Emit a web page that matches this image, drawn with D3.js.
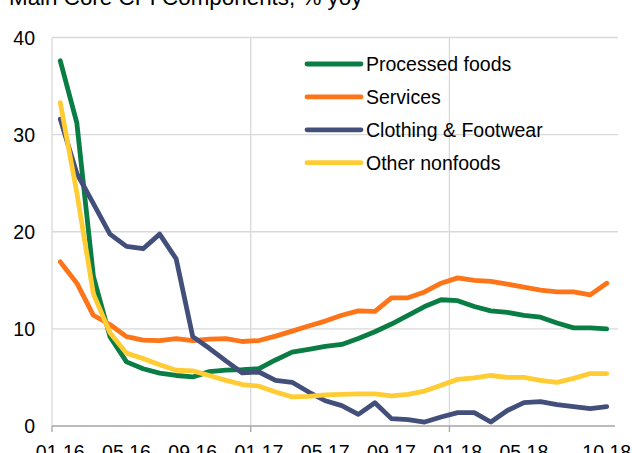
<!DOCTYPE html>
<html>
<head>
<meta charset="utf-8">
<script src="https://cdn.jsdelivr.net/npm/d3@7"></script>
<style>
  html, body { margin: 0; padding: 0; background: #ffffff; }
  svg { display: block; }
  text { font-family: "Liberation Sans", Arial, sans-serif; fill: #000; }
</style>
</head>
<body>
<svg id="chart" width="633" height="453"></svg>
<script>
const title = "Main Core CPI Components, % yoy";

const categories = ["01.16","02.16","03.16","04.16","05.16","06.16","07.16","08.16","09.16","10.16","11.16","12.16",
  "01.17","02.17","03.17","04.17","05.17","06.17","07.17","08.17","09.17","10.17","11.17","12.17",
  "01.18","02.18","03.18","04.18","05.18","06.18","07.18","08.18","09.18","10.18"];

const tickLabels = ["01.16","05.16","09.16","01.17","05.17","09.17","01.18","05.18","10.18"];
const gridCategories = ["01.17","01.18"];
const axisTickCategories = ["01.16","01.17","01.18"];
const yTicks = [0, 10, 20, 30, 40];

const processedFoods = [37.6, 31.2, 15.4, 9.2, 6.6, 5.9, 5.45, 5.2, 5.05, 5.6, 5.75, 5.8,
  5.9, 6.8, 7.6, 7.9, 8.2, 8.4, 9.0, 9.7, 10.5, 11.4, 12.3, 13.0,
  12.9, 12.3, 11.85, 11.7, 11.4, 11.2, 10.6, 10.1, 10.1, 10.0];

const services = [16.9, 14.7, 11.4, 10.45, 9.2, 8.85, 8.8, 9.0, 8.8, 8.95, 9.0, 8.7,
  8.8, 9.25, 9.77, 10.3, 10.8, 11.4, 11.85, 11.8, 13.2, 13.2, 13.8, 14.7,
  15.25, 15.0, 14.9, 14.6, 14.3, 14.0, 13.8, 13.8, 13.5, 14.7];

const clothingFootwear = [31.6, 26.0, 22.9, 19.76, 18.5, 18.25, 19.76, 17.2, 9.2, 8.0, 6.7, 5.46,
  5.56, 4.7, 4.5, 3.5, 2.6, 2.1, 1.2, 2.4, 0.76, 0.65, 0.41, 0.93,
  1.37, 1.37, 0.41, 1.6, 2.4, 2.5, 2.2, 2.0, 1.8, 2.0];

const otherNonfoods = [33.3, 24.0, 13.6, 9.6, 7.5, 6.95, 6.3, 5.74, 5.67, 5.2, 4.7, 4.27,
  4.1, 3.5, 3.0, 3.05, 3.2, 3.25, 3.3, 3.3, 3.1, 3.25, 3.6, 4.2,
  4.8, 4.95, 5.2, 5.0, 5.0, 4.7, 4.5, 4.9, 5.4, 5.4];

const seriesNames = ["Processed foods", "Services", "Clothing & Footwear", "Other nonfoods"];
const seriesColors = ["#0a7d44", "#fd7518", "#434f7b", "#ffcc33"];
const seriesValues = [processedFoods, services, clothingFootwear, otherNonfoods];

const svg = d3.select("#chart");
const plotLeft = 52, plotRight = 615, plotTop = 37.5, plotBottom = 426;

const x = d3.scaleBand().domain(categories).range([plotLeft, plotRight]).padding(0);
const y = d3.scaleLinear().domain([0, 40]).range([plotBottom, plotTop]);
const cx = c => x(c) + x.bandwidth() / 2;

// title
svg.append("text")
  .attr("x", 9).attr("y", 5)
  .style("font-size", "22.4px")
  .text(title);

// horizontal gridlines
svg.append("g").selectAll("line")
  .data(yTicks.filter(t => t > 0))
  .join("line")
  .attr("x1", plotLeft).attr("x2", plotRight + 3)
  .attr("y1", d => y(d)).attr("y2", d => y(d))
  .attr("stroke", "#d9d9d9").attr("stroke-width", 1.3);

// vertical gridlines
svg.append("g").selectAll("line")
  .data(gridCategories)
  .join("line")
  .attr("x1", d => x(d)).attr("x2", d => x(d))
  .attr("y1", plotTop).attr("y2", plotBottom)
  .attr("stroke", "#d9d9d9").attr("stroke-width", 1.3);

// y axis line
svg.append("line")
  .attr("x1", plotLeft).attr("x2", plotLeft)
  .attr("y1", plotTop).attr("y2", plotBottom)
  .attr("stroke", "#d9d9d9").attr("stroke-width", 1.3);

// x axis line
svg.append("line")
  .attr("x1", plotLeft).attr("x2", plotRight)
  .attr("y1", plotBottom).attr("y2", plotBottom)
  .attr("stroke", "#a6a6a6").attr("stroke-width", 1.3);

// x axis tick marks
svg.append("g").selectAll("line")
  .data(axisTickCategories)
  .join("line")
  .attr("x1", d => x(d)).attr("x2", d => x(d))
  .attr("y1", plotBottom).attr("y2", plotBottom + 6)
  .attr("stroke", "#a6a6a6").attr("stroke-width", 1.3);

// y tick labels
svg.append("g").selectAll("text")
  .data(yTicks)
  .join("text")
  .attr("x", 35).attr("y", d => y(d) + 7)
  .attr("text-anchor", "end")
  .style("font-size", "19.5px")
  .text(d => d);

// x tick labels
svg.append("g").selectAll("text")
  .data(tickLabels)
  .join("text")
  .attr("x", d => cx(d)).attr("y", 459)
  .attr("text-anchor", "middle")
  .style("font-size", "19.5px")
  .text(d => d);

// lines
const line = d3.line()
  .x((d, i) => cx(categories[i]))
  .y(d => y(d));

svg.append("g").selectAll("path")
  .data(seriesValues)
  .join("path")
  .attr("d", d => line(d))
  .attr("fill", "none")
  .attr("stroke", (d, i) => seriesColors[i])
  .attr("stroke-width", 4.8)
  .attr("stroke-linejoin", "round")
  .attr("stroke-linecap", "round");

// legend
const legend = svg.append("g").selectAll("g")
  .data(seriesNames)
  .join("g")
  .attr("transform", (d, i) => `translate(0, ${64 + i * 32.9})`);

legend.append("line")
  .attr("x1", 307).attr("x2", 361)
  .attr("y1", 0).attr("y2", 0)
  .attr("stroke", (d, i) => seriesColors[i])
  .attr("stroke-width", 4.8)
  .attr("stroke-linecap", "round");

legend.append("text")
  .attr("x", 366).attr("y", 7)
  .style("font-size", "19.5px")
  .text(d => d);
</script>
</body>
</html>
